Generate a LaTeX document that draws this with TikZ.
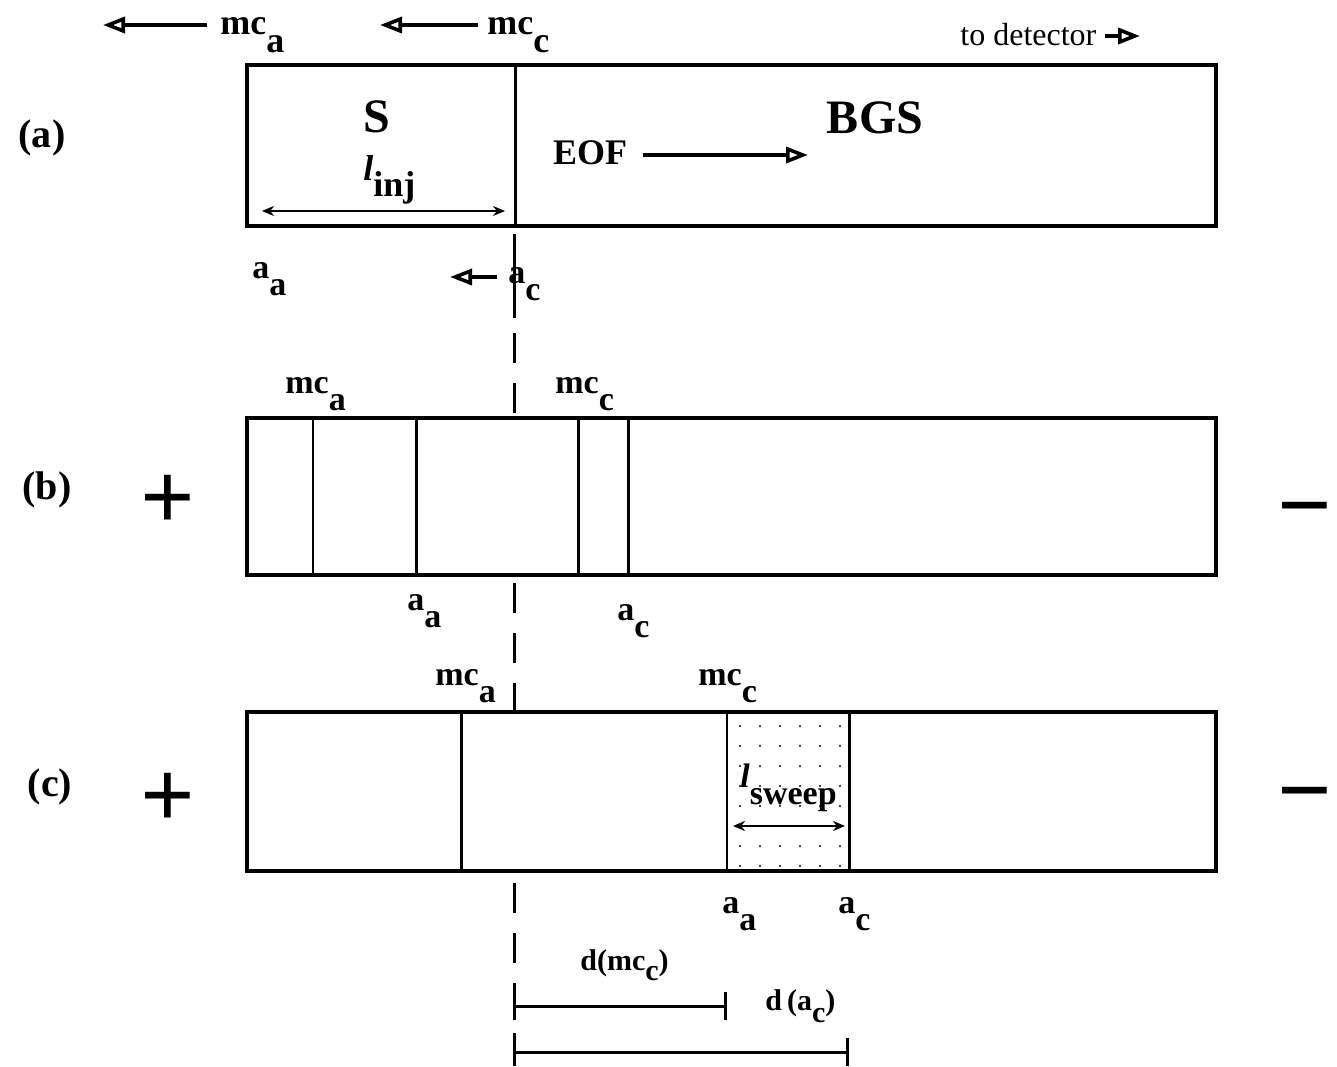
\documentclass[tikz,border=0pt]{standalone}
\usepackage{fontspec}
\setmainfont{Liberation Serif}
\usetikzlibrary{arrows.meta, patterns.meta}

% subscript at full size, only lowered
\newcommand{\dn}[1]{\raisebox{-0.5em}{#1}}

\begin{document}
\begin{tikzpicture}[
        x=0.5pt, y=-0.5pt,
        % default labels: bold serif
        every node/.style={font=\fontsize{18}{20}\selectfont\bfseries, inner sep=0pt},
        % capillary tubes
        tube/.style={draw, line width=2pt, fill=white},
        band/.style={line width=1.5pt},
        thinband/.style={line width=1pt},
        % arrows
        flow/.style={-{Triangle[open, length=11pt, width=8pt]}, line width=1.8pt},
        span/.style={{Stealth[length=6pt, width=5pt]}-{Stealth[length=6pt, width=5pt]}, line width=1pt},
        ruler/.style={{Bar[width=14pt]}-{Bar[width=14pt]}, line width=1.5pt},
        % swept zone
        zone/.style={pattern={Dots[radius=0.6pt, distance=10pt]}},
        title/.style={font=\fontsize{24}{26}\selectfont\bfseries},
        panel/.style={font=\fontsize{20}{22}\selectfont\bfseries},
        lab/.style={font=\fontsize{17}{19}\selectfont\bfseries},
        small/.style={font=\fontsize{15}{17}\selectfont\bfseries},
        sign/.style={font=\fontsize{48}{48}\selectfont\bfseries}
    ]
    \useasboundingbox (0,0) rectangle (1337,1066);

    % --- injection boundary ---
    \draw[band] (514,234) -- (514,318);
    \draw[band, dash pattern=on 15pt off 10pt] (514,333) -- (514,1066);

    % --- top: migration directions ---
    \node[anchor=base west] (mcaTop) at (220,34) {mc\dn{a}};
    \node[anchor=base west] (mccTop) at (487,34) {mc\dn{c}};
    \coordinate (mcaTail) at (207,25);
    \coordinate (mcaHead) at (103,25);
    \coordinate (mccTail) at (478,25);
    \coordinate (mccHead) at (380,25);
    \draw[flow] (mcaTail) -- (mcaHead);
    \draw[flow] (mccTail) -- (mccHead);
    \node[anchor=base west, font=\fontsize{16}{18}\selectfont] (detector) at (960,45) {to detector};
    \coordinate (detHead) at (1140,36);
    \draw[flow] ([xshift=4pt]detector.east |- detHead) -- (detHead);

    % --- (a) ---
    \node[panel] (labA) at (42,138) {(a)};
    \draw[tube] (247,65) rectangle (1216,226);
    \draw[band] (515,65) -- (515,226);
    \node[title] (sample) at (377,117) {S};
    \node[title] (bgs) at (875,118) {BGS};
    \node (eof) at (590,153) {EOF};
    \coordinate (eofHead) at (808,155);
    \draw[flow] ([xshift=8pt]eof.east |- eofHead) -- (eofHead);
    \node[anchor=base west] (linj) at (363,180) {\textit{l}\raisebox{-0.45em}{inj}};
    \coordinate (injL) at (262,211);
    \coordinate (injR) at (505,211);
    \draw[span] (injL) -- (injR);
    \node[lab, anchor=base west] (aaA) at (252,278) {a\dn{a}};
    \node[lab, anchor=base west] (acA) at (508,283) {a\dn{c}};
    \coordinate (acTail) at (497,277);
    \coordinate (acHead) at (450,277);
    \draw[flow] (acTail) -- (acHead);

    % --- (b) ---
    \node[panel] (labB) at (47,490) {(b)};
    \node[sign] (plusB) at (168,502) {+};
    \node[sign] (minusB) at (1305,520) {−};
    \draw[tube] (247,418) rectangle (1216,575);
    \draw[thinband] (313,418) -- (313,575);
    \draw[band] (416,418) -- (416,575);
    \draw[band] (578,418) -- (578,575);
    \draw[band] (628,418) -- (628,575);
    \node[lab, anchor=base west] (mcaB) at (285,393) {mc\dn{a}};
    \node[lab, anchor=base west] (mccB) at (555,393) {mc\dn{c}};
    \node[lab, anchor=base west] (aaB) at (407,610) {a\dn{a}};
    \node[lab, anchor=base west] (acB) at (617,620) {a\dn{c}};

    % --- (c) ---
    \node[panel] (labC) at (50,787) {(c)};
    \node[sign] (plusC) at (168,800) {+};
    \node[sign] (minusC) at (1305,805) {−};
    \draw[tube] (247,712) rectangle (1216,871);
    \fill[zone] (727,712) rectangle (849,871);
    \draw[band] (461,712) -- (461,871);
    \draw[thinband] (727,712) -- (727,871);
    \draw[band] (849,712) -- (849,871);
    \node[lab, anchor=base west] (mcaC) at (435,685) {mc\dn{a}};
    \node[lab, anchor=base west] (mccC) at (698,685) {mc\dn{c}};
    \node[lab, anchor=base west] (lsweep) at (740,787) {\textit{l}\raisebox{-0.5em}{sweep}};
    \coordinate (swL) at (733,826);
    \coordinate (swR) at (845,826);
    \draw[span] (swL) -- (swR);
    \node[lab, anchor=base west] (aaC) at (722,913) {a\dn{a}};
    \node[lab, anchor=base west] (acC) at (838,913) {a\dn{c}};

    % --- distances ---
    \node[small, anchor=base west] (dmc) at (580,970) {d(mc\raisebox{-0.35em}{c})};
    \node[small, anchor=base west] (dac) at (765,1010) {d\,(a\raisebox{-0.4em}{c})};
    \coordinate (zeroA) at (513,1006);
    \coordinate (mccEnd) at (727,1006);
    \coordinate (zeroB) at (513,1052);
    \coordinate (acEnd) at (849,1052);
    \draw[ruler] (zeroA) -- (mccEnd);
    \draw[ruler] (zeroB) -- (acEnd);

\end{tikzpicture}
\end{document}
